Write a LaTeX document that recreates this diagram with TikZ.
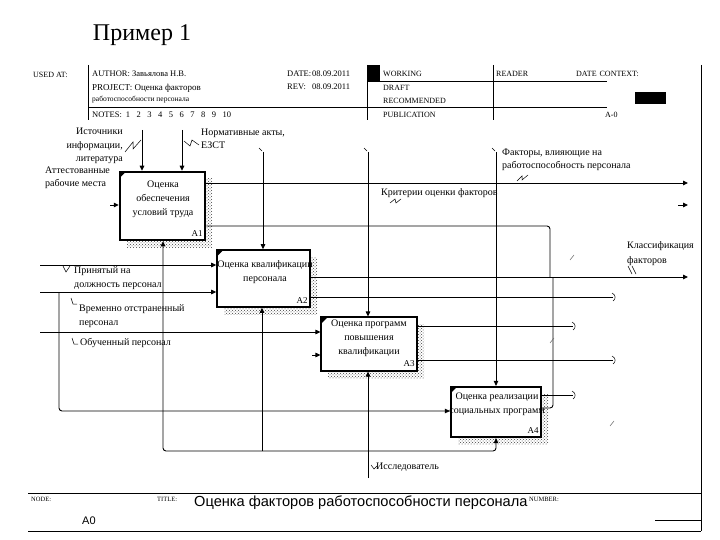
\documentclass[tikz,border=0pt]{standalone}
\usepackage{fontspec}
\setmainfont{Liberation Serif}
\newfontfamily\sansf{Liberation Sans}
\usetikzlibrary{arrows.meta,patterns,calc}
\begin{document}
\begin{tikzpicture}[x=1pt,y=-1pt,
  ln/.style={line width=0.9pt},
  arr/.style={ln,-{Stealth[length=5pt,width=4.5pt,inset=0pt]}},
  box/.style={draw,fill=white,inner sep=0pt},
  shadowfill/.style={pattern=crosshatch dots,pattern color=black!75},
  boxtext/.style={font=\fontsize{10}{14}\selectfont,align=center,inner sep=0pt},
  boxnum/.style={font=\fontsize{9}{9}\selectfont,inner sep=0pt},
  lbl/.style={font=\fontsize{10}{13.5}\selectfont,align=left,inner sep=0pt,anchor=west},
  hdr/.style={font=\fontsize{8}{9}\selectfont,inner sep=0pt,anchor=west},
  tiny/.style={font=\fontsize{6.5}{7}\selectfont,inner sep=0pt,anchor=west},
  sq/.style={line width=0.5pt},
  frame/.style={line width=0.8pt}]
\useasboundingbox (0,0) rectangle (720,540);

% title
\node[font=\fontsize{24}{28}\selectfont,inner sep=0pt] (title) at (142,35) {Пример 1};

% frame
\draw[frame] (701,65) -- (701,531);
\draw[frame] (28,493) -- (701,493);
\draw[frame] (28,531) -- (701,531);
\draw[frame] (655,520) -- (701,520);
\draw[frame] (88,65) -- (88,120);
\draw[frame] (367,65) -- (367,120);
\draw[frame] (493,65) -- (493,120);
\draw[frame] (367,81) -- (607,81);
\draw[frame] (88,107) -- (607,107);
\fill (367,65) rectangle (380,81);
\fill (635,92) rectangle (666,104);

% header texts
\node[hdr] (h1) at (33,75) {USED AT:};
\node[hdr,font=\fontsize{8.5}{9}\selectfont] (h2) at (92,74) {AUTHOR: Завьялова Н.В.};
\node[hdr,font=\fontsize{9}{9}\selectfont] (h3) at (92,88) {PROJECT: Оценка факторов};
\node[hdr,font=\fontsize{7.5}{9}\selectfont] (h4) at (92,100) {работоспособности персонала};
\node[hdr,font=\fontsize{8.5}{9}\selectfont] (h5) at (92,115) {NOTES:\hspace{4pt}1\hspace{6.5pt}2\hspace{6.5pt}3\hspace{6.5pt}4\hspace{6.5pt}5\hspace{6.5pt}6\hspace{6.5pt}7\hspace{6.5pt}8\hspace{6.5pt}9\hspace{6.5pt}10};
\node[hdr,font=\fontsize{8.5}{9}\selectfont] (h6) at (287,74) {\makebox[25pt][l]{DATE:}08.09.2011};
\node[hdr,font=\fontsize{8.5}{9}\selectfont] (h7) at (287,87) {\makebox[25pt][l]{REV:}08.09.2011};
\node[hdr] (h8) at (383,74) {WORKING};
\node[hdr] (h9) at (383,88) {DRAFT};
\node[hdr] (h10) at (383,101) {RECOMMENDED};
\node[hdr] (h11) at (383,115) {PUBLICATION};
\node[hdr] (h12) at (496,74) {READER};
\node[hdr] (h13) at (576,74) {DATE\hspace{3pt}CONTEXT:};
\node[hdr] (h14) at (605,115) {A-0};

% bottom texts
\node[tiny] (f1) at (31,499) {NODE:};
\node[tiny] (f2) at (157,499) {TITLE:};
\node[tiny] (f3) at (529,499) {NUMBER:};
\node[font=\sansf\fontsize{14.6}{15}\selectfont,anchor=west,inner sep=0pt] (f4) at (194,503) {Оценка факторов работоспособности персонала};
\node[font=\sansf\fontsize{11}{12}\selectfont,anchor=west,inner sep=0pt] (f5) at (82,521) {A0};

% shadows
\fill[shadowfill] (127,179) rectangle (212,247);
\fill[shadowfill] (224,257) rectangle (317,314);
\fill[shadowfill] (328,324) rectangle (424,378);
\fill[shadowfill] (458,394) rectangle (548,444);

% boxes
\node[box,line width=2.5pt,minimum width=85pt,minimum height=68pt] (A1) at (162.5,206) {};
\node[box,line width=1.6pt,minimum width=93pt,minimum height=57pt] (A2) at (263.5,278.5) {};
\node[box,line width=1.1pt,minimum width=96pt,minimum height=54pt] (A3) at (369,344) {};
\node[box,line width=2.2pt,minimum width=90pt,minimum height=50pt] (A4) at (496,412) {};
\foreach \b in {A1,A2,A3,A4}{
  \fill ($(\b.north west)+(1.5,1.5)$) -- ++(5,0) -- ++(-5,5) -- cycle;
}
\node[boxtext] (A1t) at (163,199) {Оценка\\обеспечения\\условий труда};
\node[boxtext] (A2t) at (265,272) {Оценка квалификации\\персонала};
\node[boxtext] (A3t) at (369,338) {Оценка программ\\повышения\\квалификации};
\node[boxtext] (A4t) at (497,404) {Оценка реализации\\социальных программ};
\node[boxnum] (A1n) at (197,234) {A1};
\node[boxnum] (A2n) at (302,301) {A2};
\node[boxnum] (A3n) at (409,364) {A3};
\node[boxnum] (A4n) at (533,431) {A4};

% controls into A1
\coordinate (c1) at (142,130);
\coordinate (c2) at (182,130);
\draw[arr] (c1) -- (c1 |- A1.north);
\draw[arr] (c2) -- (c2 |- A1.north);
% input stub into A1
\coordinate (i0) at (110,205);
\draw[arr] (i0) -- (i0 -| A1.west);

% outputs of A1
\coordinate (o1) at (688,183);
\draw[arr] (o1 -| A1.east) -- (o1);
\coordinate (o2) at (688,277);
\draw[arr] (o2 -| A2.east) -- (o2);
\coordinate (j1) at (550,226);
\draw[ln,rounded corners=3pt] (j1 -| A1.east) -- (j1) -- (j1 |- o2);
\coordinate (j2) at (553,408);
\draw[ln,rounded corners=3pt] (j2 -| A4.east) -- (j2) -- (j2 |- o2);
% output stub
\coordinate (s0) at (678,205);
\coordinate (s1) at (688,205);
\draw[arr] (s0) -- (s1);

% tunnelled outputs
\coordinate (t1) at (613,297);
\coordinate (t2) at (573,326);
\coordinate (t3) at (613,360);
\coordinate (t4) at (573,395);
\draw[ln] (t1 -| A2.east) -- (t1);
\draw[ln] (t2 -| A3.east) -- (t2);
\draw[ln] (t3 -| A3.east) -- (t3);
\draw[ln] (t4 -| A4.east) -- (t4);
\foreach \t in {t1,t2,t3,t4}{
  \draw[sq] ($(\t)+(-1,-4)$) .. controls ($(\t)+(3,-2)$) and ($(\t)+(3,2)$) .. ($(\t)+(0,4)$);
}

% controls from top
\coordinate (k1) at (263,152);
\coordinate (k2) at (368,152);
\coordinate (k3) at (496,152);
\draw[arr] (k1) -- (k1 |- A2.north);
\draw[arr] (k2) -- (k2 |- A3.north);
\draw[arr] (k3) -- (k3 |- A4.north);
\foreach \k in {k1,k2,k3}{
  \draw[sq] ($(\k)+(-4,-4)$) -- ($(\k)+(-1,-1)$);
}

% inputs from left
\coordinate (in1) at (40,265);
\coordinate (in2) at (40,292);
\coordinate (in3) at (40,332);
\coordinate (in4) at (312,355);
\draw[arr] (in1) -- (in1 -| A2.west);
\draw[arr] (in2) -- (in2 -| A2.west);
\draw[arr] (in3) -- (in3 -| A3.west);
\draw[arr] (in4) -- (in4 -| A3.west);
\coordinate (b1) at (59,292);
\coordinate (b2) at (59,411);
\draw[arr,rounded corners=3pt] (b1) -- (b2) -- (b2 -| A4.west);

% mechanisms
\coordinate (m0) at (368,478);
\coordinate (mL) at (163,451);
\coordinate (mM) at (262,451);
\coordinate (mR) at (496,451);
\draw[arr] (m0) -- (m0 |- A3.south);
\draw[arr,rounded corners=3pt] (m0 |- mL) -- (mL) -- (mL |- A1.south);
\draw[arr,rounded corners=3pt] (m0 |- mR) -- (mR) -- (mR |- A4.south);
\draw[arr] (mM) -- (mM |- A2.south);

% labels
\node[lbl,align=right,anchor=east] (lI) at (123,146) {Источники\\информации,\\литература};
\node[lbl] (lN) at (201,139) {Нормативные акты,\\ЕЗСТ};
\node[lbl] (lA) at (45,178) {Аттестованные\\рабочие места};
\node[lbl] (lF) at (502,160) {Факторы, влияющие на\\работоспособность персонала};
\node[lbl] (lK) at (381,193) {Критерии оценки факторов};
\node[lbl,font=\fontsize{10}{15}\selectfont] (lC) at (627,254) {Классификация\\факторов};
\node[lbl] (lP) at (74,278) {Принятый на\\должность персонал};
\node[lbl] (lV) at (79,316) {Временно отстраненный\\персонал};
\node[lbl] (lO) at (80,343) {Обученный персонал};
\node[lbl] (lR) at (376,467) {Исследователь};

% label squiggles
\draw[sq] (125,152) -- (133,142) -- (133,149) -- (141,140);
\draw[sq] (184,141) -- (190,146) -- (192,140) -- (199,145);
\draw[sq] (517,181) -- (522,176) -- (522,180) -- (528,175);
\draw[sq] (390,203) -- (395,199) -- (396,203) -- (401,199);
\draw[sq] (628,266) -- (632,274) (632,266) -- (636,274);
\draw[sq] (63,266) -- (66,272) -- (70,266);
\draw[sq] (71,298) -- (73,304) -- (77,304);
\draw[sq] (72,338) -- (74,344) -- (78,344);
\draw[sq] (371,465) -- (374,469) -- (377,466);
% stray marks
\draw[sq,black!60] (570,260) -- (574,255);
\draw[sq,black!60] (550,343) -- (554,338);
\draw[sq,black!60] (610,426) -- (614,421);
\end{tikzpicture}
\end{document}
